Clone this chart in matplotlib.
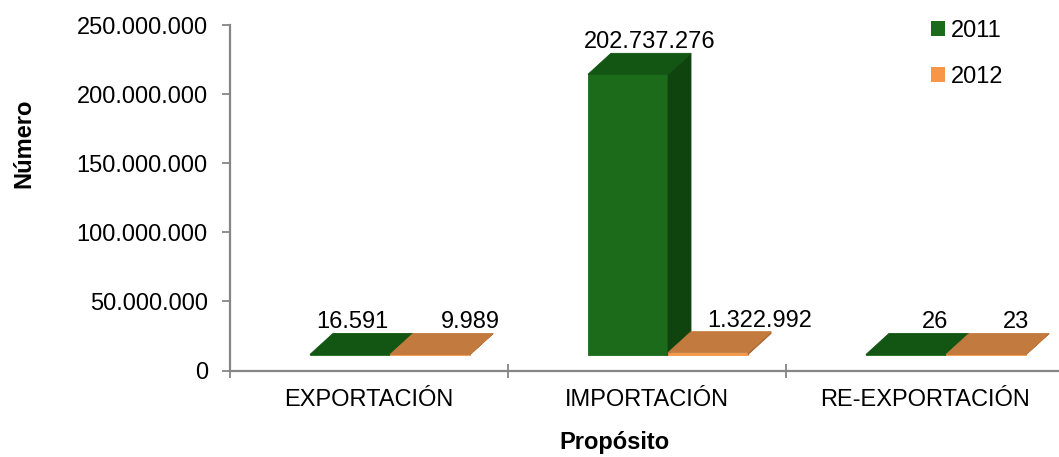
"""
Barras pseudo-3D: número por propósito, 2011 vs 2012
"""
import matplotlib
matplotlib.use("Agg")
import matplotlib.pyplot as plt
from matplotlib.patches import Polygon, Patch
from matplotlib.transforms import IdentityTransform
from matplotlib.ticker import FuncFormatter, FixedLocator

# Datos
categorias = ["EXPORTACIÓN", "IMPORTACIÓN", "RE-EXPORTACIÓN"]
anios = ["2011", "2012"]
valores_2011 = [16591, 202737276, 26]
valores_2012 = [9989, 1322992, 23]
yticks = [0, 50e6, 100e6, 150e6, 200e6, 250e6]

# Estilo
plt.rcParams["font.family"] = ["Liberation Sans", "DejaVu Sans"]
FS = 17
GRIS = "#868686"
# (frente, lateral, superior)
COLORES = {
    "2011": ("#1b6b1b", "#0f440f", "#135513"),
    "2012": ("#f79646", "#a8642c", "#c27a3e"),
}
LEYENDA = {"2011": "#1b6b1b", "2012": "#f79646"}
ANCHO = 0.288           # ancho de barra en unidades de categoría
FRENTE = (21, 16)       # desplazamiento de la cara frontal (px)
FONDO = (23, 21)        # profundidad (px)
# desplazamiento x de cada etiqueta (px), como lo coloca Excel
ETIQ_DX = {"2011": [23, 43, 50], "2012": [61, 73, 51]}


def fmt_miles(v, _pos=None):
    return f"{v:,.0f}".replace(",", ".")


fig = plt.figure(figsize=(10.59, 4.57), dpi=100)
W, H = 1059, 457
ax = fig.add_axes([230 / W, (H - 370.5) / H, (1064 - 230) / W, 345.5 / H])
ax.set_xlim(-0.5, 2.5)
ax.set_ylim(0, 250e6)

# Ejes
for s in ("top", "right"):
    ax.spines[s].set_visible(False)
for s in ("left", "bottom"):
    ax.spines[s].set_color(GRIS)
    ax.spines[s].set_linewidth(1.6)
ax.yaxis.set_major_locator(FixedLocator(yticks))
ax.yaxis.set_major_formatter(FuncFormatter(fmt_miles))
ax.tick_params(axis="y", direction="out", length=6, width=1.3, color=GRIS,
               labelsize=FS, pad=10)
ax.set_xticks(range(len(categorias)))
ax.set_xticklabels(categorias, fontsize=FS)
ax.tick_params(axis="x", which="major", length=0, pad=13)
ax.set_xticks([-0.5, 0.5, 1.5, 2.5], minor=True)
ax.tick_params(axis="x", which="minor", direction="inout", length=10,
               width=1.3, color=GRIS)

fig.canvas.draw()
to_px = ax.transData.transform


def barra_3d(x0, valor, colores):
    """Dibuja una barra con cara frontal, lateral y superior"""
    frente, lateral, superior = colores
    (xa, ya), (xb, yb) = to_px([(x0, 0), (x0 + ANCHO, valor)])
    xa += FRENTE[0]; xb += FRENTE[0]
    ya += FRENTE[1]; yb += FRENTE[1]
    dx, dy = FONDO
    caras = [
        ([(xa, ya), (xb, ya), (xb, yb), (xa, yb)], frente),
        ([(xb, ya), (xb + dx, ya + dy), (xb + dx, yb + dy), (xb, yb)], lateral),
        ([(xa, yb), (xb, yb), (xb + dx, yb + dy), (xa + dx, yb + dy)], superior),
    ]
    for pts, c in caras:
        ax.add_patch(Polygon(pts, closed=True, facecolor=c, edgecolor=c,
                             linewidth=0.6, transform=IdentityTransform(),
                             clip_on=False))


# (año, valores, desplazamiento de la barra)
series = [("2011", valores_2011, -ANCHO), ("2012", valores_2012, 0.0)]
for i in range(len(categorias)):
    for anio, vals, off in series:
        barra_3d(i + off, vals[i], COLORES[anio])

# Etiquetas de valor
for anio, vals, off in series:
    for i, v in enumerate(vals):
        ax.annotate(fmt_miles(v), xy=(i + off + ANCHO / 2, v),
                    xytext=(ETIQ_DX[anio][i], 48), textcoords="offset pixels",
                    ha="center", va="center", fontsize=FS, color="black",
                    annotation_clip=False)

# Títulos de ejes
fig.text(24 / W, 1 - 143 / H, "Número", rotation=90, ha="center",
         va="center", fontsize=FS, fontweight="bold")
fig.text(614 / W, 1 - 443 / H, "Propósito", ha="center", va="center",
         fontsize=FS, fontweight="bold")

# Leyenda
handles = [Patch(facecolor=LEYENDA[a], edgecolor="none", label=a) for a in anios]
fig.legend(handles=handles, loc="upper left", bbox_to_anchor=(931 / W, 1 - 20 / H),
           frameon=False, fontsize=FS, handlelength=0.6, handleheight=0.6,
           handletextpad=0.25, labelspacing=1.0, borderpad=0, borderaxespad=0)

fig.savefig("out.png", dpi=100)
plt.close(fig)
